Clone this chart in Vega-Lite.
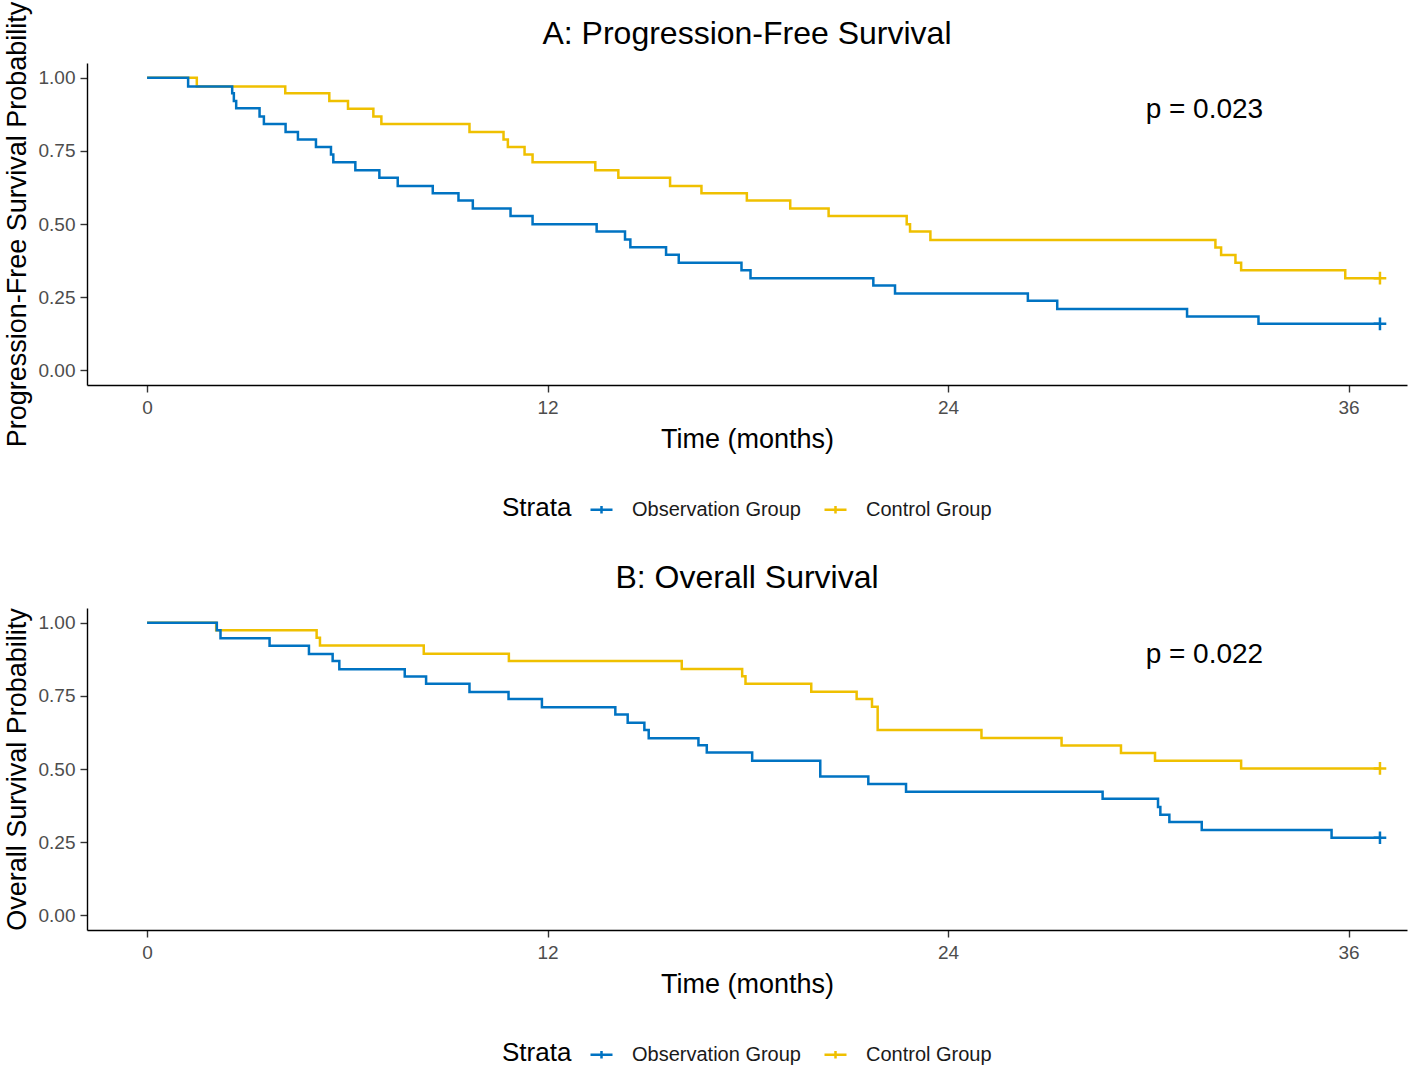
{
  "$schema": "https://vega.github.io/schema/vega-lite/v6.json",
  "padding": {"top": 1, "left": 3, "right": 5, "bottom": 2},
  "background": "white",
  "config": {
    "font": "Liberation Sans",
    "view": {"stroke": null},
    "axis": {
      "grid": false,
      "domainColor": "#000000",
      "domainWidth": 1.4,
      "tickColor": "#333333",
      "tickWidth": 1.4,
      "tickSize": 7,
      "labelColor": "#4D4D4D",
      "labelFontSize": 19,
      "labelPadding": 5,
      "titleFontSize": 27,
      "titleFontWeight": "normal",
      "titleColor": "#000000"
    },
    "title": {"fontSize": 32, "fontWeight": "normal", "color": "#000000", "anchor": "middle", "frame": "group"}
  },
  "datasets": {
    "pfs": [
      {"group": "Control Group", "t": 0, "s": 1.0},
      {"group": "Control Group", "t": 1.49, "s": 0.970},
      {"group": "Control Group", "t": 4.14, "s": 0.947},
      {"group": "Control Group", "t": 5.46, "s": 0.920},
      {"group": "Control Group", "t": 6.02, "s": 0.894},
      {"group": "Control Group", "t": 6.78, "s": 0.867},
      {"group": "Control Group", "t": 7.02, "s": 0.842},
      {"group": "Control Group", "t": 9.66, "s": 0.814},
      {"group": "Control Group", "t": 10.68, "s": 0.789},
      {"group": "Control Group", "t": 10.81, "s": 0.763},
      {"group": "Control Group", "t": 11.31, "s": 0.737},
      {"group": "Control Group", "t": 11.55, "s": 0.711},
      {"group": "Control Group", "t": 13.43, "s": 0.684},
      {"group": "Control Group", "t": 14.12, "s": 0.658},
      {"group": "Control Group", "t": 15.67, "s": 0.630},
      {"group": "Control Group", "t": 16.61, "s": 0.605},
      {"group": "Control Group", "t": 17.97, "s": 0.580},
      {"group": "Control Group", "t": 19.27, "s": 0.553},
      {"group": "Control Group", "t": 20.42, "s": 0.527},
      {"group": "Control Group", "t": 22.76, "s": 0.499},
      {"group": "Control Group", "t": 22.86, "s": 0.474},
      {"group": "Control Group", "t": 23.47, "s": 0.445},
      {"group": "Control Group", "t": 32.01, "s": 0.420},
      {"group": "Control Group", "t": 32.18, "s": 0.394},
      {"group": "Control Group", "t": 32.61, "s": 0.368},
      {"group": "Control Group", "t": 32.78, "s": 0.342},
      {"group": "Control Group", "t": 35.90, "s": 0.315},
      {"group": "Control Group", "t": 36.94, "s": 0.315, "censor": true},
      {"group": "Observation Group", "t": 0, "s": 1.0},
      {"group": "Observation Group", "t": 1.23, "s": 0.970},
      {"group": "Observation Group", "t": 2.55, "s": 0.947},
      {"group": "Observation Group", "t": 2.60, "s": 0.920},
      {"group": "Observation Group", "t": 2.67, "s": 0.895},
      {"group": "Observation Group", "t": 3.37, "s": 0.867},
      {"group": "Observation Group", "t": 3.50, "s": 0.842},
      {"group": "Observation Group", "t": 4.15, "s": 0.814},
      {"group": "Observation Group", "t": 4.52, "s": 0.789},
      {"group": "Observation Group", "t": 5.06, "s": 0.763},
      {"group": "Observation Group", "t": 5.51, "s": 0.737},
      {"group": "Observation Group", "t": 5.58, "s": 0.711},
      {"group": "Observation Group", "t": 6.24, "s": 0.684},
      {"group": "Observation Group", "t": 6.96, "s": 0.658},
      {"group": "Observation Group", "t": 7.51, "s": 0.630},
      {"group": "Observation Group", "t": 8.56, "s": 0.605},
      {"group": "Observation Group", "t": 9.33, "s": 0.580},
      {"group": "Observation Group", "t": 9.76, "s": 0.553},
      {"group": "Observation Group", "t": 10.89, "s": 0.527},
      {"group": "Observation Group", "t": 11.55, "s": 0.499},
      {"group": "Observation Group", "t": 13.47, "s": 0.474},
      {"group": "Observation Group", "t": 14.32, "s": 0.447},
      {"group": "Observation Group", "t": 14.48, "s": 0.421},
      {"group": "Observation Group", "t": 15.55, "s": 0.395},
      {"group": "Observation Group", "t": 15.93, "s": 0.368},
      {"group": "Observation Group", "t": 17.81, "s": 0.342},
      {"group": "Observation Group", "t": 18.08, "s": 0.315},
      {"group": "Observation Group", "t": 21.76, "s": 0.290},
      {"group": "Observation Group", "t": 22.41, "s": 0.263},
      {"group": "Observation Group", "t": 26.39, "s": 0.238},
      {"group": "Observation Group", "t": 27.27, "s": 0.210},
      {"group": "Observation Group", "t": 31.16, "s": 0.184},
      {"group": "Observation Group", "t": 33.30, "s": 0.159},
      {"group": "Observation Group", "t": 36.94, "s": 0.159, "censor": true}
    ],
    "os": [
      {"group": "Control Group", "t": 0, "s": 1.0},
      {"group": "Control Group", "t": 2.07, "s": 0.974},
      {"group": "Control Group", "t": 5.08, "s": 0.948},
      {"group": "Control Group", "t": 5.18, "s": 0.922},
      {"group": "Control Group", "t": 8.29, "s": 0.894},
      {"group": "Control Group", "t": 10.84, "s": 0.869},
      {"group": "Control Group", "t": 16.02, "s": 0.842},
      {"group": "Control Group", "t": 17.83, "s": 0.817},
      {"group": "Control Group", "t": 17.93, "s": 0.791},
      {"group": "Control Group", "t": 19.90, "s": 0.764},
      {"group": "Control Group", "t": 21.26, "s": 0.739},
      {"group": "Control Group", "t": 21.72, "s": 0.713},
      {"group": "Control Group", "t": 21.89, "s": 0.633},
      {"group": "Control Group", "t": 25.00, "s": 0.606},
      {"group": "Control Group", "t": 27.40, "s": 0.580},
      {"group": "Control Group", "t": 29.18, "s": 0.555},
      {"group": "Control Group", "t": 30.20, "s": 0.528},
      {"group": "Control Group", "t": 32.78, "s": 0.502},
      {"group": "Control Group", "t": 36.94, "s": 0.502, "censor": true},
      {"group": "Observation Group", "t": 0, "s": 1.0},
      {"group": "Observation Group", "t": 2.09, "s": 0.974},
      {"group": "Observation Group", "t": 2.20, "s": 0.947},
      {"group": "Observation Group", "t": 3.67, "s": 0.921},
      {"group": "Observation Group", "t": 4.85, "s": 0.893},
      {"group": "Observation Group", "t": 5.56, "s": 0.869},
      {"group": "Observation Group", "t": 5.76, "s": 0.841},
      {"group": "Observation Group", "t": 7.72, "s": 0.816},
      {"group": "Observation Group", "t": 8.36, "s": 0.791},
      {"group": "Observation Group", "t": 9.66, "s": 0.763},
      {"group": "Observation Group", "t": 10.83, "s": 0.739},
      {"group": "Observation Group", "t": 11.83, "s": 0.711},
      {"group": "Observation Group", "t": 14.03, "s": 0.686},
      {"group": "Observation Group", "t": 14.40, "s": 0.658},
      {"group": "Observation Group", "t": 14.90, "s": 0.633},
      {"group": "Observation Group", "t": 15.03, "s": 0.605},
      {"group": "Observation Group", "t": 16.52, "s": 0.581},
      {"group": "Observation Group", "t": 16.77, "s": 0.556},
      {"group": "Observation Group", "t": 18.13, "s": 0.528},
      {"group": "Observation Group", "t": 20.17, "s": 0.474},
      {"group": "Observation Group", "t": 21.61, "s": 0.449},
      {"group": "Observation Group", "t": 22.74, "s": 0.422},
      {"group": "Observation Group", "t": 28.63, "s": 0.398},
      {"group": "Observation Group", "t": 30.29, "s": 0.370},
      {"group": "Observation Group", "t": 30.36, "s": 0.344},
      {"group": "Observation Group", "t": 30.63, "s": 0.319},
      {"group": "Observation Group", "t": 31.60, "s": 0.292},
      {"group": "Observation Group", "t": 35.49, "s": 0.265},
      {"group": "Observation Group", "t": 36.94, "s": 0.265, "censor": true}
    ],
    "pA": [{"label": "p = 0.023", "t": 31.68, "s": 0.888}],
    "pB": [{"label": "p = 0.022", "t": 31.68, "s": 0.89}]
  },
  "spacing": 40,
  "resolve": {"legend": {"color": "independent"}},
  "vconcat": [
    {
      "width": 1320,
      "height": 322,
      "title": {"text": "A: Progression-Free Survival", "offset": -50},
      "layer": [
        {
          "data": {"name": "pfs"},
          "mark": {"type": "line", "interpolate": "step-after", "strokeWidth": 2.5},
          "encoding": {
            "x": {"field": "t", "type": "quantitative", "title": "Time (months)", "scale": {"domain": [-1.8, 37.75], "nice": false, "zero": false}, "axis": {"values": [0, 12, 24, 36], "titlePadding": 9, "labelPadding": 6}},
            "y": {"field": "s", "type": "quantitative", "title": "Progression-Free Survival Probability", "scale": {"domain": [-0.05, 1.05], "nice": false}, "axis": {"values": [0, 0.25, 0.5, 0.75, 1], "format": ".2f", "titlePadding": 7}},
            "color": {"field": "group", "type": "nominal", "title": "Strata", "scale": {"domain": ["Observation Group", "Control Group"], "range": ["#0073C2", "#EFC000"]},
              "legend": {"orient": "none", "legendX": 415, "legendY": 434, "direction": "horizontal", "titleOrient": "left", "titleFontSize": 26, "titleFontWeight": "normal", "titleColor": "#000000", "titlePadding": 17, "labelFontSize": 20, "labelColor": "#1a1a1a", "labelLimit": 400, "labelOffset": 18, "columnPadding": 18, "symbolType": "M-1,0H1M0,-0.33V0.33", "symbolSize": 484, "symbolStrokeWidth": 2.5}}
          }
        },
        {
          "data": {"name": "pfs"},
          "transform": [{"filter": "datum.censor === true"}],
          "mark": {"type": "point", "shape": "M-1,0H1M0,-1V1", "size": 160, "strokeWidth": 2.5, "filled": false, "opacity": 1},
          "encoding": {
            "x": {"field": "t", "type": "quantitative"},
            "y": {"field": "s", "type": "quantitative"},
            "color": {"field": "group", "type": "nominal", "legend": null}
          }
        },
        {
          "data": {"name": "pA"},
          "mark": {"type": "text", "fontSize": 28, "color": "#000000", "align": "center", "baseline": "middle"},
          "encoding": {
            "x": {"field": "t", "type": "quantitative"},
            "y": {"field": "s", "type": "quantitative"},
            "text": {"field": "label"}
          }
        }
      ]
    },
    {
      "width": 1320,
      "height": 322,
      "title": {"text": "B: Overall Survival", "offset": 13},
      "layer": [
        {
          "data": {"name": "os"},
          "mark": {"type": "line", "interpolate": "step-after", "strokeWidth": 2.5},
          "encoding": {
            "x": {"field": "t", "type": "quantitative", "title": "Time (months)", "scale": {"domain": [-1.8, 37.75], "nice": false, "zero": false}, "axis": {"values": [0, 12, 24, 36], "titlePadding": 9, "labelPadding": 6}},
            "y": {"field": "s", "type": "quantitative", "title": "Overall Survival Probability", "scale": {"domain": [-0.05, 1.05], "nice": false}, "axis": {"values": [0, 0.25, 0.5, 0.75, 1], "format": ".2f", "titlePadding": 7}},
            "color": {"field": "group", "type": "nominal", "title": "Strata", "scale": {"domain": ["Observation Group", "Control Group"], "range": ["#0073C2", "#EFC000"]},
              "legend": {"orient": "none", "legendX": 415, "legendY": 434, "direction": "horizontal", "titleOrient": "left", "titleFontSize": 26, "titleFontWeight": "normal", "titleColor": "#000000", "titlePadding": 17, "labelFontSize": 20, "labelColor": "#1a1a1a", "labelLimit": 400, "labelOffset": 18, "columnPadding": 18, "symbolType": "M-1,0H1M0,-0.33V0.33", "symbolSize": 484, "symbolStrokeWidth": 2.5}}
          }
        },
        {
          "data": {"name": "os"},
          "transform": [{"filter": "datum.censor === true"}],
          "mark": {"type": "point", "shape": "M-1,0H1M0,-1V1", "size": 160, "strokeWidth": 2.5, "filled": false, "opacity": 1},
          "encoding": {
            "x": {"field": "t", "type": "quantitative"},
            "y": {"field": "s", "type": "quantitative"},
            "color": {"field": "group", "type": "nominal", "legend": null}
          }
        },
        {
          "data": {"name": "pB"},
          "mark": {"type": "text", "fontSize": 28, "color": "#000000", "align": "center", "baseline": "middle"},
          "encoding": {
            "x": {"field": "t", "type": "quantitative"},
            "y": {"field": "s", "type": "quantitative"},
            "text": {"field": "label"}
          }
        }
      ]
    }
  ]
}
